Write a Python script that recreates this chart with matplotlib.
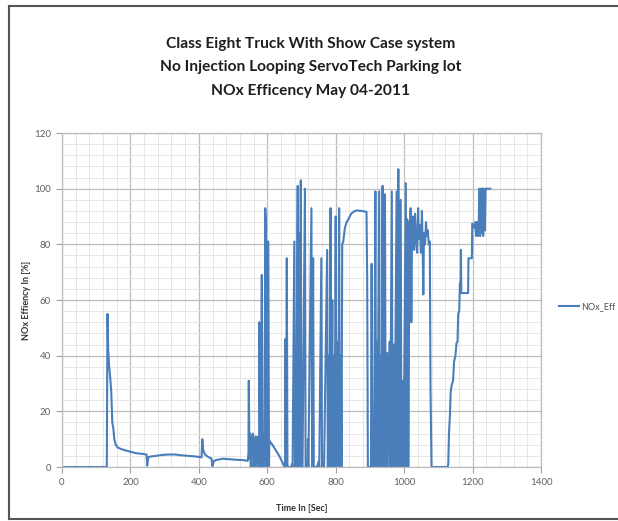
import matplotlib
matplotlib.use("Agg")
import matplotlib.pyplot as plt
from matplotlib.lines import Line2D
from matplotlib.ticker import MultipleLocator

plt.rcParams['font.family'] = ['Lato', 'DejaVu Sans']

# NOx efficiency trace (time in s, efficiency in %)
time_s = [
    0, 131, 133, 135, 138, 141, 144, 147, 150, 153, 157, 163, 172, 185, 200, 215, 230, 247, 249, 252,
    260, 275, 290, 310, 330, 350, 370, 390, 408, 410, 413, 418, 425, 437, 440, 443, 450, 470, 490, 510,
    530, 543, 545,
    546, 548, 550, 552, 554, 556, 558, 560, 562, 564, 566, 568, 570, 572, 574, 576, 577, 579, 581, 583,
    584, 586, 588, 590, 592, 594, 596, 598, 600, 601, 603, 605, 606, 615, 625, 635, 645, 650,
    652, 653, 655, 657, 659, 670, 672, 674, 679, 681, 684, 689, 690, 692, 694, 695, 698, 700, 703, 710,
    712, 718, 719, 720, 729, 731, 734, 736, 745, 750, 752, 758, 760, 766, 775, 777, 780, 782, 785, 787,
    790, 792, 795, 797, 800, 802, 806, 808, 810, 812, 815, 817, 819, 822, 827, 832, 837, 845, 852, 861,
    876, 890, 892, 894,
    903, 905, 907, 912, 916, 918, 920, 922, 927, 929, 932, 934, 937, 939, 944, 946, 950, 952, 957, 959,
    964, 966, 970, 972, 978, 980, 983, 985, 990, 992, 996, 998, 1005, 1007, 1009, 1011, 1013, 1015, 1017, 1019,
    1021, 1023, 1026, 1029, 1032, 1035, 1038, 1041, 1043, 1046, 1049, 1052, 1054, 1056, 1058, 1061, 1064, 1066, 1069, 1072,
    1075, 1077, 1080,
    1127, 1129, 1131, 1134, 1136, 1139, 1143, 1146, 1150, 1153, 1156, 1158, 1161, 1163, 1165, 1166, 1167, 1187, 1188, 1198,
    1199, 1205, 1208, 1210, 1213, 1216, 1218, 1220, 1222, 1225, 1227, 1229, 1231, 1233, 1236, 1238, 1252,
]
nox_eff = [
    0, 0, 55, 42, 36, 32, 27, 16, 14, 10, 8, 7, 6.5, 6, 5.5, 5, 4.8, 4.5, 0.5, 3.5,
    3.8, 4, 4.3, 4.5, 4.5, 4.2, 4, 3.8, 3.5, 10, 6, 4.5, 3.8, 3, 0.3, 2, 2.5, 3, 2.8, 2.6,
    2.5, 2.2, 5,
    31, 3, 12, 0, 11, 4, 12, 0, 9, 5, 11, 0, 10, 2, 11, 0, 52, 10, 0, 42,
    69, 10, 0, 12, 0, 93, 88, 0, 10, 81, 81, 0, 9.5, 8, 6, 4, 1.5, 0,
    0, 46, 0, 75, 0, 0, 1, 0, 81, 0, 0, 101, 0, 0, 84, 0, 103, 0, 0, 100,
    0, 0, 10, 0, 93, 0, 75, 0, 0, 2, 0, 75, 0, 0, 78, 0, 40, 0, 93, 0,
    60, 0, 40, 0, 90, 0, 45, 0, 93, 0, 40, 0, 80, 81, 86, 88, 89, 91, 91.7, 92.2,
    92, 91.7, 68, 0,
    0, 73, 0, 0, 99, 0, 45, 0, 99, 0, 40, 0, 101, 0, 98, 0, 41, 0, 45, 0,
    99, 0, 44, 0, 99, 0, 107, 0, 96, 0, 31, 0, 102, 0, 89, 0, 0, 88, 79, 93,
    52, 83, 90, 78, 91, 81, 77, 93, 82, 87, 77, 92, 80, 62, 84, 80, 88, 83, 85, 80,
    81, 29, 0,
    0, 1, 12, 19, 27, 29.5, 31, 38, 40, 44.5, 45, 55, 56, 66, 66, 78, 62.5, 62.5, 75, 75,
    87.5, 86, 88, 83, 88, 83, 88, 100, 83, 100, 84, 100, 83, 100, 85, 100, 100,
]

title_lines = ["Class Eight Truck With Show Case system",
               "No Injection Looping ServoTech Parking lot",
               "NOx Efficency May 04-2011"]

fig = plt.figure(figsize=(6.18, 5.21), dpi=100)
ax = fig.add_axes([0.1003, 0.1036, 0.7751, 0.6411])

ax.plot(time_s, nox_eff, color='#4a7ebb', linewidth=1.5, label='NOx_Eff')

ax.set_xlim(0, 1400)
ax.set_ylim(0, 120)
ax.xaxis.set_major_locator(MultipleLocator(200))
ax.xaxis.set_minor_locator(MultipleLocator(40))
ax.yaxis.set_major_locator(MultipleLocator(20))
ax.yaxis.set_minor_locator(MultipleLocator(4))
ax.grid(which='major', color='#bdbdbd', linewidth=0.9)
ax.grid(which='minor', color='#e3e3e3', linewidth=0.6)
ax.set_axisbelow(True)
for s in ax.spines.values():
    s.set_color('#bdbdbd')
    s.set_linewidth(0.9)
ax.tick_params(which='major', length=4, color='#a0a0a0', labelsize=7, labelcolor='#606060', pad=4)
ax.tick_params(which='minor', length=0)

ax.set_xlabel("Time In [Sec]", fontsize=6.5, color='#303030', fontweight='bold', labelpad=12)
ax.set_ylabel("NOx Effiency In [%]", fontsize=6.5, color='#303030', fontweight='bold', labelpad=2)

for i, line in enumerate(title_lines):
    fig.text(0.502, 1 - (44 + 23.5 * i) / 521, line, ha='center', va='center',
             fontsize=11.2, fontweight='bold', color='#1e1e1e')

leg = ax.legend(loc='center left', bbox_to_anchor=(1.02, 0.48), frameon=False,
                fontsize=6.5, handlelength=2.2, handletextpad=0.3)
for t in leg.get_texts():
    t.set_color('#505050')

# outer frame of the chart image
fr = dict(color='#555555', linewidth=1.5, transform=fig.transFigure)
fig.add_artist(Line2D([9 / 618, 9 / 618], [1 - 6 / 521, 1 - 519 / 521], **fr))
fig.add_artist(Line2D([9 / 618, 1], [1 - 6 / 521, 1 - 6 / 521], **fr))
fig.add_artist(Line2D([9 / 618, 1], [1 - 519 / 521, 1 - 519 / 521], **fr))

fig.savefig("out.png", dpi=100, facecolor='white')
